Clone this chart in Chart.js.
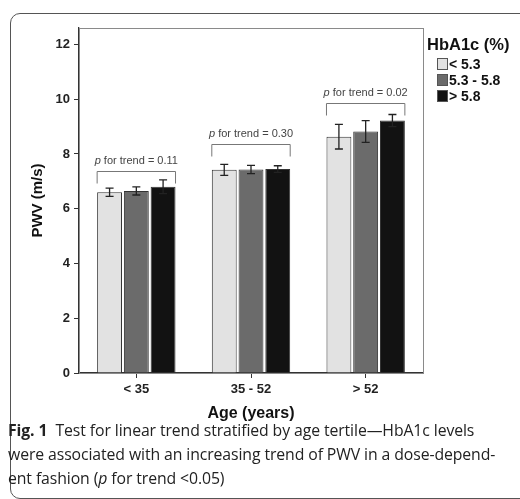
<!DOCTYPE html>
<html>
<head>
<meta charset="utf-8">
<script src="https://cdn.jsdelivr.net/npm/chart.js@4"></script>
<style>
	html, body { margin: 0; padding: 0; background: #fff; }
	#wrap { position: relative; width: 520px; height: 499px; overflow: hidden; }
	#frame {
		position: absolute; left: 10px; top: 13px; width: 540px; height: 484px;
		border: 1.5px solid #555; border-radius: 10px;
	}
	#chart { position: absolute; left: 0; top: 0; }
	#caption {
		position: absolute; left: 8px; top: 418px;
		font-family: "Open Sans", sans-serif; font-size: 15.8px; line-height: 24px;
		color: #222; white-space: nowrap; letter-spacing: -0.1px;
	}
</style>
</head>
<body>
<div id="wrap">
	<div id="frame"></div>
	<canvas id="chart" width="520" height="499"></canvas>
	<div id="caption">
		<b>Fig. 1</b>&nbsp; Test for linear trend stratified by age tertile—HbA1c levels<br>
		were associated with an increasing trend of PWV in a dose-depend-<br>
		ent fashion (<i>p</i> for trend &lt;0.05)
	</div>
</div>
<script>
// values
const ageGroups = ["< 35", "35 - 52", "> 52"];
const hbaLabels = ["< 5.3", "5.3 - 5.8", "> 5.8"];
const pwvLow = [6.6, 7.42, 8.63];
const pwvMid = [6.65, 7.43, 8.82];
const pwvHigh = [6.8, 7.45, 9.22];
const errLow = [0.15, 0.2, 0.45];
const errMid = [0.15, 0.15, 0.4];
const errHigh = [0.25, 0.12, 0.22];
const trendP = ["0.11", "0.30", "0.02"];
const yTicks = [0, 2, 4, 6, 8, 10, 12];

const barColors = ["#e2e2e2", "#6b6b6b", "#121212"];
const errors = [errLow, errMid, errHigh];
const bracketGap = [9, 20, 12];

// box around plot area
const frameBox = {
	id: "frameBox",
	beforeDatasetsDraw(chart) {
		const a = chart.chartArea;
		const ctx = chart.ctx;
		ctx.save();
		ctx.strokeStyle = "#8a8a8a";
		ctx.lineWidth = 1;
		ctx.strokeRect(a.left + 0.5, a.top + 0.5, a.right - a.left, a.bottom - a.top);
		ctx.restore();
	}
};

// error bars, brackets and p labels
const extras = {
	id: "extras",
	afterDatasetsDraw(chart) {
		const ctx = chart.ctx;
		const y = chart.scales.y;
		ctx.save();
		ctx.strokeStyle = "#222";
		ctx.lineWidth = 1.3;
		const tops = [];
		chart.data.datasets.forEach((ds, di) => {
			const meta = chart.getDatasetMeta(di);
			meta.data.forEach((bar, i) => {
				const v = ds.data[i], e = errors[di][i];
				const y1 = y.getPixelForValue(v + e), y2 = y.getPixelForValue(v - e);
				ctx.beginPath();
				ctx.moveTo(bar.x, y1); ctx.lineTo(bar.x, y2);
				ctx.moveTo(bar.x - 4, y1); ctx.lineTo(bar.x + 4, y1);
				ctx.moveTo(bar.x - 4, y2); ctx.lineTo(bar.x + 4, y2);
				ctx.stroke();
				tops[i] = Math.min(tops[i] === undefined ? 1e9 : tops[i], y1);
			});
		});
		const first = chart.getDatasetMeta(0).data;
		const last = chart.getDatasetMeta(2).data;
		ctx.strokeStyle = "#777";
		ctx.lineWidth = 1;
		first.forEach((b, i) => {
			const l = b.x - b.width / 2, r = last[i].x + last[i].width / 2;
			const by = Math.round(tops[i] - bracketGap[i]) + 0.5;
			ctx.beginPath();
			ctx.moveTo(l, by + 12); ctx.lineTo(l, by); ctx.lineTo(r, by); ctx.lineTo(r, by + 12);
			ctx.stroke();
			const cx = (l + r) / 2;
			ctx.fillStyle = "#444";
			ctx.textBaseline = "middle";
			ctx.font = "italic 11px 'Liberation Sans'";
			const pw = ctx.measureText("p").width;
			ctx.font = "11px 'Liberation Sans'";
			const rest = " for trend = " + trendP[i];
			const rw = ctx.measureText(rest).width;
			const sx = cx - (pw + rw) / 2;
			ctx.font = "italic 11px 'Liberation Sans'";
			ctx.fillText("p", sx, by - 11);
			ctx.font = "11px 'Liberation Sans'";
			ctx.fillText(rest, sx + pw, by - 11);
		});
		ctx.restore();
	}
};

// legend at the right
const sideLegend = {
	id: "sideLegend",
	afterDraw(chart) {
		const ctx = chart.ctx;
		ctx.save();
		ctx.fillStyle = "#111";
		ctx.textBaseline = "middle";
		ctx.font = "bold 16.5px 'Liberation Sans'";
		ctx.fillText("HbA1c (%)", 427, 45);
		ctx.font = "bold 14px 'Liberation Sans'";
		chart.data.datasets.forEach((ds, i) => {
			const cy = 64 + i * 16;
			ctx.fillStyle = ds.backgroundColor;
			ctx.fillRect(437, cy - 6, 11, 12);
			ctx.strokeStyle = "#555";
			ctx.lineWidth = 1;
			ctx.strokeRect(437.5, cy - 5.5, 10, 11);
			ctx.fillStyle = "#111";
			ctx.fillText(ds.label, 449, cy + 1);
		});
		ctx.restore();
	}
};

new Chart(document.getElementById("chart"), {
	type: "bar",
	data: {
		labels: ageGroups,
		datasets: [pwvLow, pwvMid, pwvHigh].map((d, i) => ({
			label: hbaLabels[i],
			data: d,
			backgroundColor: barColors[i],
			borderColor: "#333",
			borderWidth: 1,
			borderSkipped: "bottom",
			categoryPercentage: 0.7,
			barPercentage: 0.93
		}))
	},
	options: {
		responsive: false,
		animation: false,
		layout: { padding: { left: 25, right: 97, top: 28, bottom: 76 } },
		plugins: { legend: { display: false }, tooltip: { enabled: false } },
		scales: {
			x: {
				afterFit(s) { s.height = 50; },
				grid: { offset: false, drawOnChartArea: false, tickLength: 5, color: "#333" },
				border: { color: "#333", width: 1.3 },
				ticks: { color: "#222", padding: 4, font: { family: "Liberation Sans", size: 13, weight: "bold" } },
				title: {
					display: true, text: "Age (years)", color: "#111", padding: 0,
					font: { family: "Liberation Sans", size: 16, weight: "bold" }
				}
			},
			y: {
				min: 0,
				max: 12.6,
				afterFit(s) { s.width = 54; },
				afterBuildTicks(s) { s.ticks = yTicks.map(v => ({ value: v })); },
				grid: { drawOnChartArea: false, tickLength: 5, color: "#333" },
				border: { color: "#333", width: 1.3 },
				ticks: { color: "#222", padding: 4, font: { family: "Liberation Sans", size: 13, weight: "bold" } },
				title: {
					display: true, text: "PWV (m/s)", color: "#111",
					font: { family: "Liberation Sans", size: 15, weight: "bold" }
				}
			}
		}
	},
	plugins: [frameBox, extras, sideLegend]
});
</script>
</body>
</html>
